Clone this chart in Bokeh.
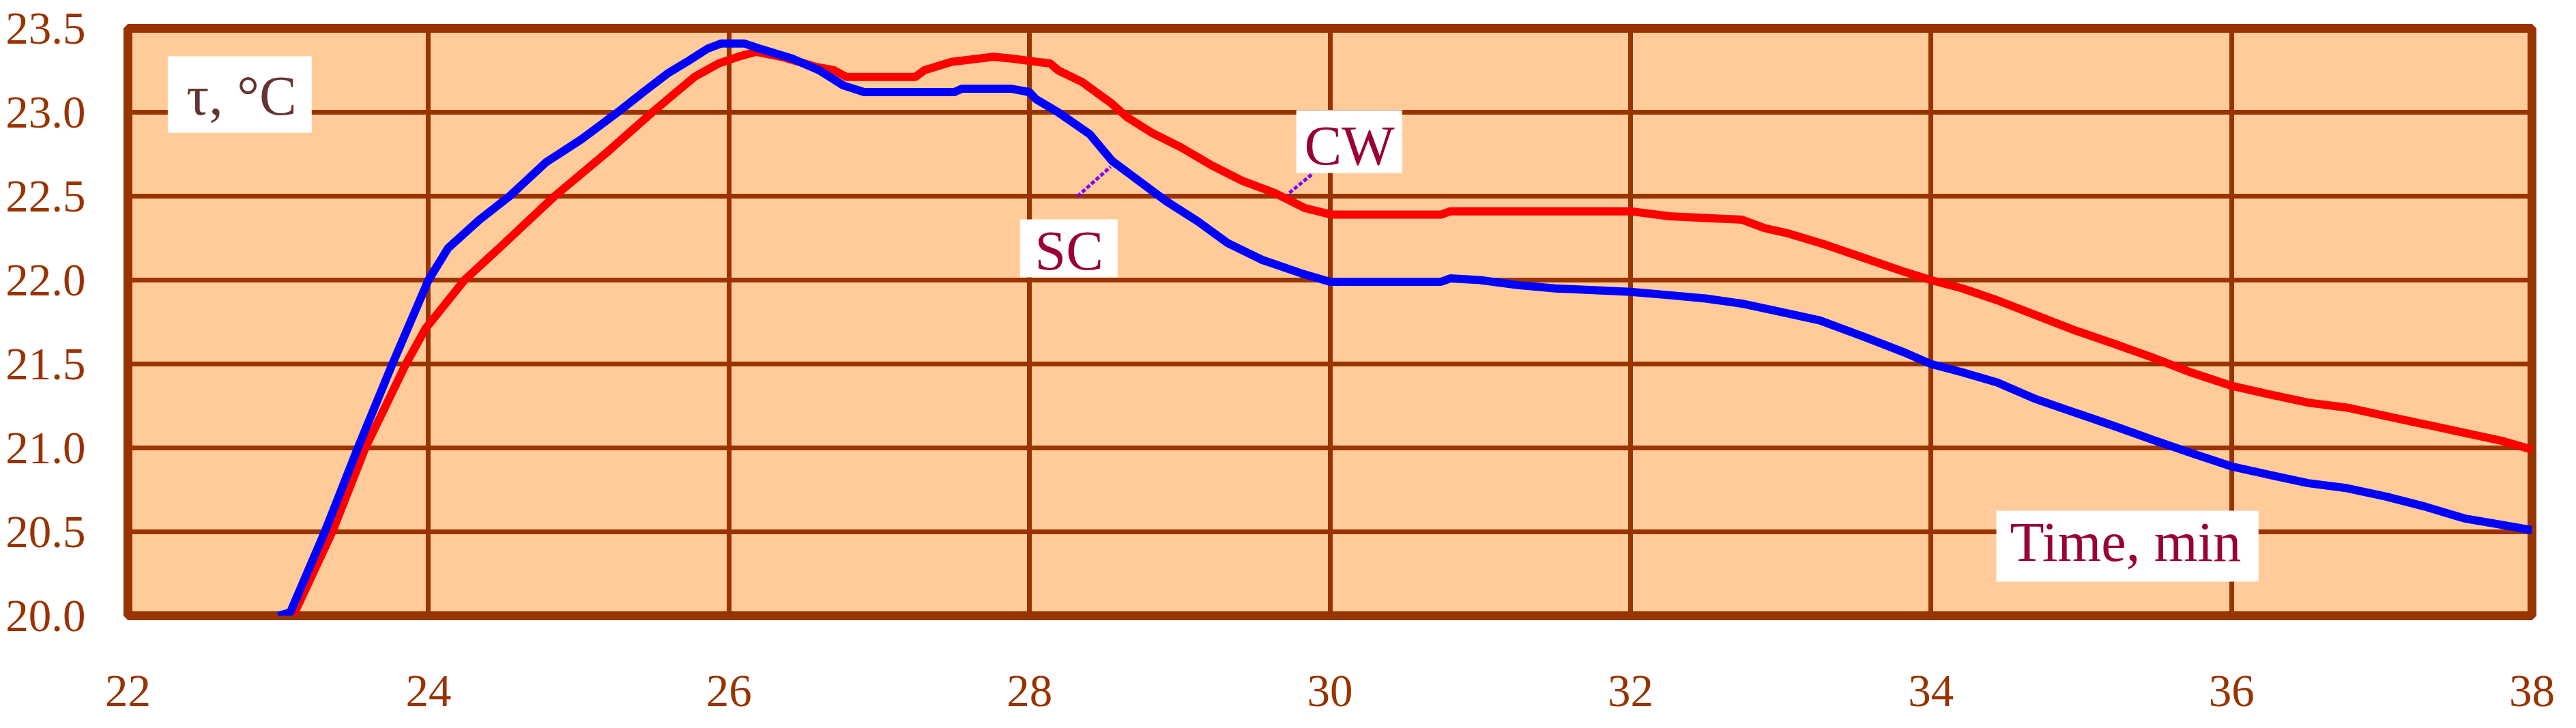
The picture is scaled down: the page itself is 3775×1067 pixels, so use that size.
from bokeh.plotting import figure
from bokeh.models import Range1d, FixedTicker, Label, BoxAnnotation
from bokeh.embed import file_html
from bokeh.resources import INLINE

# ---- data ----
sc_time = [23.0, 23.08, 23.31, 23.53, 23.76, 24.0, 24.13, 24.34, 24.54, 24.78, 25.02, 25.26,
           25.43, 25.59, 25.72, 25.86, 25.95, 26.1, 26.2, 26.42, 26.6, 26.76, 26.9, 27.5,
           27.55, 27.88, 28.0, 28.04, 28.19, 28.4, 28.55, 28.73, 28.91, 29.12, 29.32, 29.55,
           29.81, 30.0, 30.74, 30.8, 31.0, 31.25, 31.5, 32.0, 32.26, 32.5, 32.74, 33.0,
           33.26, 33.56, 33.82, 34.0, 34.21, 34.44, 34.7, 34.96, 35.22, 35.47, 35.73, 36.0,
           36.25, 36.51, 36.77, 37.03, 37.29, 37.55, 37.81, 38.0]
sc_temp = [20.0, 20.02, 20.5, 21.0, 21.5, 22.0, 22.19, 22.36, 22.5, 22.7, 22.84, 23.0,
           23.12, 23.23, 23.3, 23.38, 23.41, 23.41, 23.38, 23.32, 23.25, 23.16, 23.12, 23.12,
           23.14, 23.14, 23.12, 23.08, 23.0, 22.87, 22.71, 22.59, 22.47, 22.35, 22.22, 22.12,
           22.04, 21.99, 21.99, 22.01, 22.0, 21.97, 21.95, 21.93, 21.91, 21.89, 21.86, 21.81,
           21.76, 21.66, 21.57, 21.5, 21.45, 21.39, 21.29, 21.21, 21.13, 21.05, 20.97, 20.89,
           20.84, 20.79, 20.76, 20.71, 20.65, 20.58, 20.54, 20.51]

cw_time = [23.1, 23.36, 23.58, 23.85, 23.98, 24.24, 24.47, 24.84, 25.2, 25.49, 25.77, 25.93,
           26.06, 26.18, 26.35, 26.58, 26.7, 26.78, 27.24, 27.3, 27.48, 27.76, 27.88, 28.14,
           28.19, 28.35, 28.55, 28.65, 28.81, 29.01, 29.22, 29.42, 29.63, 29.83, 30.01, 30.74,
           30.8, 32.0, 32.26, 32.74, 32.89, 33.04, 33.3, 33.56, 33.82, 34.0, 34.21, 34.44,
           34.7, 34.96, 35.22, 35.47, 35.73, 36.0, 36.25, 36.51, 36.77, 37.03, 37.29, 37.55,
           37.81, 38.0]
cw_temp = [20.0, 20.5, 21.0, 21.5, 21.71, 22.0, 22.19, 22.5, 22.77, 23.0, 23.21, 23.29,
           23.33, 23.36, 23.33, 23.27, 23.25, 23.21, 23.21, 23.25, 23.3, 23.33, 23.32, 23.29,
           23.25, 23.18, 23.05, 22.97, 22.88, 22.79, 22.68, 22.59, 22.52, 22.43, 22.39, 22.39,
           22.41, 22.41, 22.38, 22.36, 22.31, 22.28, 22.21, 22.13, 22.05, 22.0, 21.95, 21.88,
           21.79, 21.7, 21.62, 21.54, 21.45, 21.37, 21.32, 21.27, 21.24, 21.19, 21.14, 21.09,
           21.04, 20.99]

x_ticks = [22, 24, 26, 28, 30, 32, 34, 36, 38]
x_tick_labels = ["22", "24", "26", "28", "30", "32", "34", "36", "38"]
y_ticks = [20.0, 20.5, 21.0, 21.5, 22.0, 22.5, 23.0, 23.5]
y_tick_labels = ["20.0", "20.5", "21.0", "21.5", "22.0", "22.5", "23.0", "23.5"]

BROWN = "#993300"
TEXT_RED = "#990033"
FONT = "Liberation Serif"

p = figure(width=3759, height=1051, output_backend="svg", toolbar_location=None,
           x_range=Range1d(22, 38), y_range=Range1d(20, 23.5),
           min_border_left=187, min_border_right=49, min_border_top=41, min_border_bottom=149)
p.background_fill_color = "#FFCC99"
p.border_fill_color = "white"
p.outline_line_color = BROWN
p.outline_line_width = 13

for g, t in ((p.xgrid, x_ticks), (p.ygrid, y_ticks)):
    g.ticker = FixedTicker(ticks=t)
    g.grid_line_color = BROWN
    g.grid_line_width = 7
    g.grid_line_alpha = 1.0

p.xaxis.ticker = FixedTicker(ticks=x_ticks)
p.yaxis.ticker = FixedTicker(ticks=y_ticks)
p.xaxis.major_label_overrides = dict(zip(x_ticks, x_tick_labels))
p.yaxis.major_label_overrides = dict(zip(y_ticks, y_tick_labels))
for ax in (p.xaxis[0], p.yaxis[0]):
    ax.axis_line_color = None
    ax.major_tick_line_color = None
    ax.minor_tick_line_color = None
    ax.major_label_text_font = FONT
    ax.major_label_text_font_size = "67px"
    ax.major_label_text_color = BROWN
p.xaxis.major_label_standoff = 82
p.yaxis.major_label_standoff = 56

# leader lines
p.line([28.32, 28.54], [22.50, 22.675], line_color="#7F00FF", line_width=5, line_dash="6 3")
p.line([29.73, 29.88], [22.52, 22.63], line_color="#7F00FF", line_width=5, line_dash="6 3")

# curves
p.line(cw_time, cw_temp, line_color="#FF0000", line_width=12)
p.line(sc_time, sc_temp, line_color="#0000FF", line_width=12)

# white label boxes + texts
boxes = [
    (22.265, 23.223, 23.333, 22.878),
    (29.776, 30.480, 23.012, 22.638),
    (27.937, 28.587, 22.362, 22.016),
    (34.435, 36.180, 20.626, 20.203),
]
for l, r, t, b in boxes:
    p.add_layout(BoxAnnotation(left=l, right=r, top=t, bottom=b, fill_color="white",
                               fill_alpha=1.0, line_color=None))

texts = [
    ("τ, °C", 22.756, 23.098, "#663333"),
    ("CW", 30.13, 22.80, TEXT_RED),
    ("SC", 28.264, 22.175, TEXT_RED),
    ("Time, min", 35.295, 20.439, TEXT_RED),
]
for s, x, y, c in texts:
    p.add_layout(Label(x=x, y=y, text=s, text_align="center", text_baseline="middle",
                       text_font=FONT, text_font_size="82px", text_color=c))

open("out.html", "w").write(file_html(p, INLINE))
